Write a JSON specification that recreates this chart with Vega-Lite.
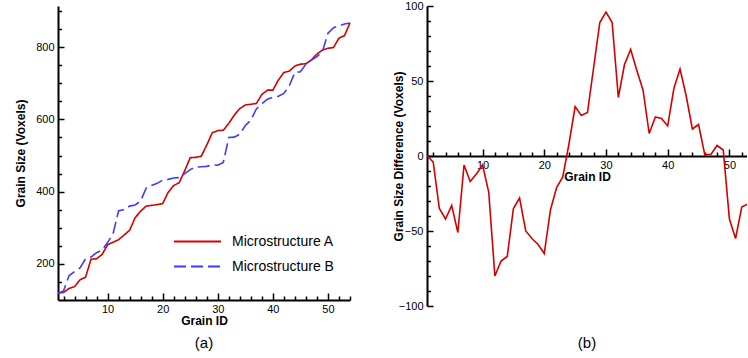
{
  "$schema": "https://vega.github.io/schema/vega-lite/v6.json",
  "padding": {"left": 14, "top": 0, "right": 0, "bottom": 0},
  "background": "white",
  "config": {
    "view": {"stroke": null},
    "axis": {
      "domainColor": "black", "domainWidth": 2, "tickColor": "black", "tickWidth": 1.5,
      "labelFont": "Liberation Sans", "labelFontSize": 11, "labelColor": "black",
      "titleFont": "Liberation Sans", "titleFontSize": 12, "titleFontWeight": "bold", "titleColor": "black",
      "grid": false, "labelOverlap": false, "labelFlush": false
    },
    "title": {"font": "Liberation Sans", "fontSize": 15, "fontWeight": "normal", "color": "black"}
  },
  "data": {"values": [
    {"id": 1, "Microstructure A": 119, "Microstructure B": 119, "diff": 0},
    {"id": 2, "Microstructure A": 121, "Microstructure B": 125, "diff": -4},
    {"id": 3, "Microstructure A": 132, "Microstructure B": 167, "diff": -35},
    {"id": 4, "Microstructure A": 137, "Microstructure B": 179, "diff": -42},
    {"id": 5, "Microstructure A": 156, "Microstructure B": 189, "diff": -33},
    {"id": 6, "Microstructure A": 163, "Microstructure B": 214, "diff": -51},
    {"id": 7, "Microstructure A": 213, "Microstructure B": 219, "diff": -6},
    {"id": 8, "Microstructure A": 214, "Microstructure B": 231, "diff": -17},
    {"id": 9, "Microstructure A": 226, "Microstructure B": 238, "diff": -12},
    {"id": 10, "Microstructure A": 253, "Microstructure B": 259, "diff": -6},
    {"id": 11, "Microstructure A": 260, "Microstructure B": 284, "diff": -24},
    {"id": 12, "Microstructure A": 267, "Microstructure B": 347, "diff": -80},
    {"id": 13, "Microstructure A": 280, "Microstructure B": 350, "diff": -70},
    {"id": 14, "Microstructure A": 293, "Microstructure B": 360, "diff": -67},
    {"id": 15, "Microstructure A": 328, "Microstructure B": 363, "diff": -35},
    {"id": 16, "Microstructure A": 346, "Microstructure B": 374, "diff": -28},
    {"id": 17, "Microstructure A": 360, "Microstructure B": 410, "diff": -50},
    {"id": 18, "Microstructure A": 362, "Microstructure B": 417, "diff": -55},
    {"id": 19, "Microstructure A": 364, "Microstructure B": 423, "diff": -59},
    {"id": 20, "Microstructure A": 367, "Microstructure B": 432, "diff": -65},
    {"id": 21, "Microstructure A": 398, "Microstructure B": 434, "diff": -36},
    {"id": 22, "Microstructure A": 417, "Microstructure B": 438, "diff": -21},
    {"id": 23, "Microstructure A": 425, "Microstructure B": 439, "diff": -14},
    {"id": 24, "Microstructure A": 458, "Microstructure B": 450, "diff": 8},
    {"id": 25, "Microstructure A": 494, "Microstructure B": 461, "diff": 33},
    {"id": 26, "Microstructure A": 495, "Microstructure B": 468, "diff": 27},
    {"id": 27, "Microstructure A": 498, "Microstructure B": 469, "diff": 29},
    {"id": 28, "Microstructure A": 529, "Microstructure B": 470, "diff": 59},
    {"id": 29, "Microstructure A": 563, "Microstructure B": 474, "diff": 89},
    {"id": 30, "Microstructure A": 569, "Microstructure B": 473, "diff": 96},
    {"id": 31, "Microstructure A": 570, "Microstructure B": 481, "diff": 89},
    {"id": 32, "Microstructure A": 589, "Microstructure B": 550, "diff": 39},
    {"id": 33, "Microstructure A": 612, "Microstructure B": 551, "diff": 61},
    {"id": 34, "Microstructure A": 630, "Microstructure B": 559, "diff": 71},
    {"id": 35, "Microstructure A": 640, "Microstructure B": 583, "diff": 57},
    {"id": 36, "Microstructure A": 642, "Microstructure B": 598, "diff": 44},
    {"id": 37, "Microstructure A": 644, "Microstructure B": 629, "diff": 15},
    {"id": 38, "Microstructure A": 669, "Microstructure B": 643, "diff": 26},
    {"id": 39, "Microstructure A": 681, "Microstructure B": 656, "diff": 25},
    {"id": 40, "Microstructure A": 681, "Microstructure B": 661, "diff": 20},
    {"id": 41, "Microstructure A": 709, "Microstructure B": 664, "diff": 45},
    {"id": 42, "Microstructure A": 730, "Microstructure B": 672, "diff": 58},
    {"id": 43, "Microstructure A": 734, "Microstructure B": 694, "diff": 40},
    {"id": 44, "Microstructure A": 748, "Microstructure B": 730, "diff": 18},
    {"id": 45, "Microstructure A": 753, "Microstructure B": 732, "diff": 21},
    {"id": 46, "Microstructure A": 754, "Microstructure B": 753, "diff": 1},
    {"id": 47, "Microstructure A": 765, "Microstructure B": 764, "diff": 1},
    {"id": 48, "Microstructure A": 781, "Microstructure B": 774, "diff": 7},
    {"id": 49, "Microstructure A": 792, "Microstructure B": 788, "diff": 4},
    {"id": 50, "Microstructure A": 797, "Microstructure B": 839, "diff": -42},
    {"id": 51, "Microstructure A": 799, "Microstructure B": 854, "diff": -55},
    {"id": 52, "Microstructure A": 825, "Microstructure B": 859, "diff": -34},
    {"id": 53, "Microstructure A": 832, "Microstructure B": 864, "diff": -32},
    {"id": 54, "Microstructure A": 867, "Microstructure B": 867, "diff": 0}
  ]},
  "spacing": 38,
  "hconcat": [
    {
      "width": 292, "height": 294,
      "title": {"text": "(a)", "orient": "bottom", "offset": 10},
      "transform": [{"fold": ["Microstructure A", "Microstructure B"], "as": ["structure", "size"]}],
      "mark": {"type": "line", "strokeWidth": 1.6},
      "encoding": {
        "x": {"field": "id", "type": "quantitative",
          "scale": {"domain": [1, 54], "nice": false, "zero": false},
          "axis": {"title": "Grain ID", "values": [2,4,6,8,10,12,14,16,18,20,22,24,26,28,30,32,34,36,38,40,42,44,46,48,50,52,54],
            "labelExpr": "datum.value % 10 === 0 ? datum.label : ''",
            "tickSize": {"condition": {"test": "datum.value % 10 === 0", "value": -7}, "value": -4},
            "labelPadding": 10, "titlePadding": -2}},
        "y": {"field": "size", "type": "quantitative",
          "scale": {"domain": [100, 914], "nice": false, "zero": false},
          "axis": {"title": "Grain Size (Voxels)", "values": [150,200,250,300,350,400,450,500,550,600,650,700,750,800,850,900],
            "labelExpr": "datum.value % 200 === 0 ? datum.label : ''",
            "tickSize": {"condition": {"test": "datum.value % 200 === 0", "value": -6}, "value": -3.5},
            "labelPadding": 10, "titlePadding": 8}},
        "color": {"field": "structure", "type": "nominal",
          "scale": {"domain": ["Microstructure A", "Microstructure B"], "range": ["#d40000", "#3c3cff"]},
          "legend": {"title": null, "orient": "none", "legendX": 129, "legendY": 225, "symbolType": "M-2.5,0H2.5", "symbolSize": 353, "symbolStrokeWidth": 2, "labelFont": "Liberation Sans", "labelFontSize": 14, "labelColor": "black", "labelOffset": 24, "rowPadding": 7}},
        "strokeDash": {"field": "structure", "type": "nominal",
          "scale": {"domain": ["Microstructure A", "Microstructure B"], "range": [[1, 0], [12, 5]]},
          "legend": {"title": null, "orient": "none", "legendX": 129, "legendY": 225, "symbolType": "M-2.5,0H2.5", "symbolSize": 353, "symbolStrokeWidth": 2, "labelFont": "Liberation Sans", "labelFontSize": 14, "labelColor": "black", "labelOffset": 24, "rowPadding": 7}}
      }
    },
    {
      "width": 320, "height": 300,
      "title": {"text": "(b)", "orient": "bottom", "offset": 25},
      "mark": {"type": "line", "color": "#d40000", "strokeWidth": 1.6, "clip": true},
      "encoding": {
        "x": {"field": "id", "type": "quantitative",
          "scale": {"domain": [1, 52.85], "nice": false, "zero": false},
          "axis": {"title": "Grain ID", "offset": -150, "values": [2,4,6,8,10,12,14,16,18,20,22,24,26,28,30,32,34,36,38,40,42,44,46,48,50,52],
            "labelExpr": "datum.value % 10 === 0 ? datum.label : ''",
            "tickSize": {"condition": {"test": "datum.value % 10 === 0", "value": -7}, "value": -4},
            "labelPadding": 10, "titlePadding": -2}},
        "y": {"field": "diff", "type": "quantitative",
          "scale": {"domain": [-100, 100], "nice": false},
          "axis": {"title": "Grain Size Difference (Voxels)", "values": [-100,-90,-80,-70,-60,-50,-40,-30,-20,-10,0,10,20,30,40,50,60,70,80,90,100],
            "labelExpr": "datum.value % 50 === 0 ? datum.label : ''",
            "tickSize": {"condition": {"test": "datum.value % 50 === 0", "value": -6}, "value": -3.5},
            "labelPadding": 10, "titlePadding": -7}}
      }
    }
  ]
}
